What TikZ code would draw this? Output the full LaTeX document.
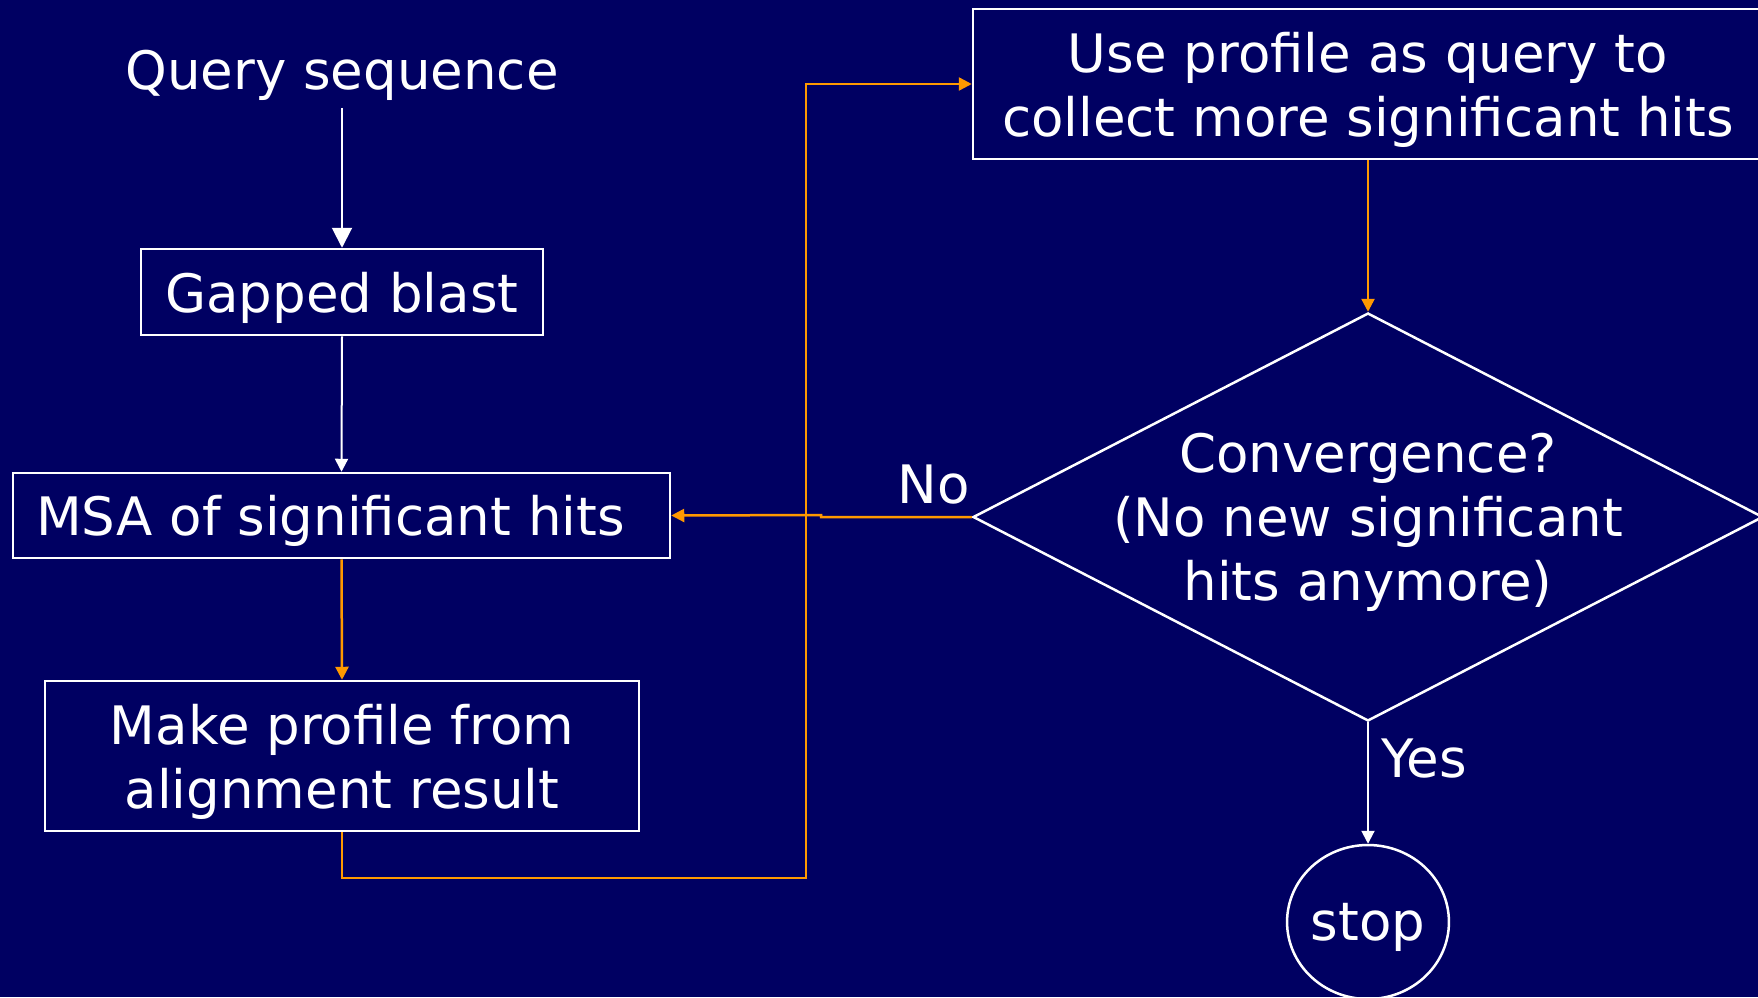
\documentclass[tikz,border=0pt]{standalone}
\usepackage{fontspec}
\setmainfont{DejaVu Sans}
\usetikzlibrary{arrows.meta,shapes.geometric}

\definecolor{slidebg}{RGB}{0,0,98}
\definecolor{loopor}{RGB}{255,153,0}

\begin{document}
\begin{tikzpicture}[x=1pt,y=-1pt,
  every node/.style={text=white,font=\fontsize{53}{64}\selectfont,text depth=0pt},
  stepbox/.style={draw=white,line width=2.5pt,rectangle,align=center,inner sep=0pt},
  flow/.style={draw=white,line width=2pt},
  loop/.style={draw=loopor,line width=2.5pt},
  bigtip/.style={-{Triangle[length=20pt,width=20pt]}},
  smalltip/.style={-{Triangle[length=13pt,width=13pt]}}]

  % canvas
  \fill[slidebg] (0,0) rectangle (1758,997);
  \useasboundingbox (0,0) rectangle (1758,997);

  % left column
  \node[inner xsep=4pt,inner ysep=18pt] (query) at (342,70) {Query sequence};
  \node[stepbox,minimum width=402pt,minimum height=86pt] (gapped) at (342,292) {Gapped blast};
  \node[stepbox,minimum width=657pt,minimum height=85pt] (msa) at (341.5,515.5) {MSA of significant hits\hspace*{22pt}};
  \node[stepbox,minimum width=594pt,minimum height=150pt] (profile) at (342,756) {Make profile from\\alignment result};

  % right column
  \node[stepbox,minimum width=790pt,minimum height=150pt] (search) at (1368,84) {Use profile as query to\\collect more significant hits};
  \node[diamond,draw=white,line width=2.5pt,inner sep=0pt,minimum width=790pt,minimum height=408pt] (conv) at (1368,517) {};
  \node[align=center] (convtext) at (1368,517) {Convergence?\\(No new significant\\hits anymore)};
  \node[ellipse,draw=white,line width=2.5pt,inner sep=0pt,minimum width=158pt,minimum height=154pt] (stop) at (1368,922) {stop};

  % branch labels
  \node (no) at (934,484) {No};
  \node (yes) at (1424,758) {Yes};

  % loop routing points
  \coordinate (under) at (806,878);
  \coordinate (jogA) at (821,517);
  \coordinate (jogB) at (821,515);

  % white connectors
  \draw[flow,bigtip] (query.south) -- (gapped.north);
  \draw[flow,smalltip] (gapped.south) -- (msa.north);
  \draw[flow,smalltip] (conv.south) -- (stop.north);

  % orange iteration loop
  \draw[loop,smalltip] (msa.south) -- (profile.north);
  \draw[loop,smalltip] (profile.south) |- (under) |- (search.west);
  \draw[loop,smalltip] (search.south) -- (conv.north);
  \draw[loop,smalltip] (conv.west) -- (jogA) -- (jogB) -- (msa.east);
\end{tikzpicture}
\end{document}
